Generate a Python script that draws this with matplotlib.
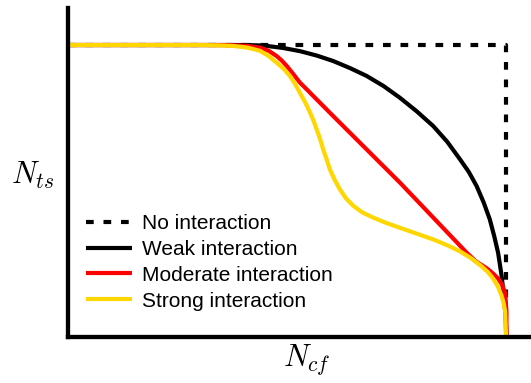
import matplotlib
matplotlib.use("Agg")
import matplotlib.pyplot as plt

plt.rcParams['font.family'] = ['Liberation Sans', 'DejaVu Sans']
plt.rcParams['mathtext.fontset'] = 'cm'

labels = ["No interaction", "Weak interaction", "Moderate interaction", "Strong interaction"]
colors = ["black", "black", "#ff0000", "#ffd700"]

none_x = [0.0, 1.0, 1.0]
none_y = [1.0, 1.0, 0.0]

weak_x = [0.0, 0.40, 0.43, 0.453, 0.49, 0.529, 0.567, 0.605, 0.643, 0.681, 0.72, 0.757,
          0.795, 0.833, 0.865, 0.894, 0.914, 0.932, 0.948, 0.962, 0.972, 0.981, 0.989,
          0.994, 0.998, 1.0]
weak_y = [1.0, 1.0, 0.999, 0.997, 0.99, 0.979, 0.964, 0.945, 0.921, 0.894, 0.859, 0.819,
          0.773, 0.722, 0.668, 0.608, 0.565, 0.516, 0.46, 0.402, 0.345, 0.287, 0.208,
          0.139, 0.07, 0.0]

mod_x = [0.0, 0.35, 0.377, 0.41, 0.438, 0.458, 0.476, 0.488, 0.499, 0.514, 0.529, 0.545,
         0.605, 0.681, 0.757, 0.833, 0.909, 0.93, 0.955, 0.968, 0.981, 0.99, 0.997,
         0.9985, 1.0, 1.0]
mod_y = [1.0, 1.0, 0.999, 0.997, 0.991, 0.98, 0.962, 0.946, 0.928, 0.9, 0.871, 0.847,
         0.756, 0.642, 0.528, 0.408, 0.288, 0.258, 0.234, 0.218, 0.199, 0.178, 0.150,
         0.12, 0.082, 0.0]

strong_x = [0.0, 0.30, 0.34, 0.376, 0.41, 0.438, 0.458, 0.476, 0.492, 0.506, 0.518, 0.529,
            0.541, 0.552, 0.560, 0.567, 0.575, 0.582, 0.590, 0.597, 0.608, 0.620, 0.634,
            0.651, 0.672, 0.696, 0.725, 0.757, 0.795, 0.833, 0.865, 0.894, 0.918, 0.940,
            0.957, 0.970, 0.981, 0.989, 0.994, 0.997, 0.998, 0.999]
strong_y = [1.0, 1.0, 0.999, 0.997, 0.991, 0.980, 0.962, 0.939, 0.918, 0.894, 0.866, 0.836,
            0.803, 0.768, 0.740, 0.711, 0.677, 0.642, 0.607, 0.574, 0.538, 0.505, 0.474,
            0.448, 0.425, 0.408, 0.390, 0.373, 0.353, 0.333, 0.313, 0.292, 0.270, 0.245,
            0.222, 0.198, 0.17, 0.140, 0.112, 0.085, 0.045, 0.0]

fig = plt.figure(figsize=(5.31, 3.83), dpi=100)
ax = fig.add_axes([0.1281, 0.1214, 0.8719, 0.8577])

lw = 3
common = dict(lw=lw, clip_on=False, solid_joinstyle='round', solid_capstyle='butt')
ax.plot(none_x, none_y, color=colors[0], lw=lw, linestyle=(0, (1.85, 2.35)),
        label=labels[0], clip_on=False)
ax.plot(weak_x, weak_y, color=colors[1], label=labels[1], **common)
ax.plot(mod_x, mod_y, color=colors[2], label=labels[2], **common)
ax.plot(strong_x, strong_y, color=colors[3], label=labels[3], **common)

ax.set_xlim(0, 1.056)
ax.set_ylim(0, 1.127)
ax.set_xticks([])
ax.set_yticks([])
for s in ['top', 'right']:
    ax.spines[s].set_visible(False)
for s in ['left', 'bottom']:
    ax.spines[s].set_linewidth(3.1)
    ax.spines[s].set_color('black')

ax.set_xlabel(r'$N_{cf}$', fontsize=22, va='center')
ax.xaxis.set_label_coords(0.515, -0.071)
ax.set_ylabel(r'$N_{ts}$', fontsize=22, rotation=0, ha='center', va='center')
ax.yaxis.set_label_coords(-0.076, 0.49)

ax.legend(loc='upper left', bbox_to_anchor=(0.039, 0.373), frameon=False,
          fontsize=15, borderpad=0, borderaxespad=0, handlelength=2.2,
          handletextpad=0.5, labelspacing=0.33)

fig.savefig('out.png', dpi=100)
